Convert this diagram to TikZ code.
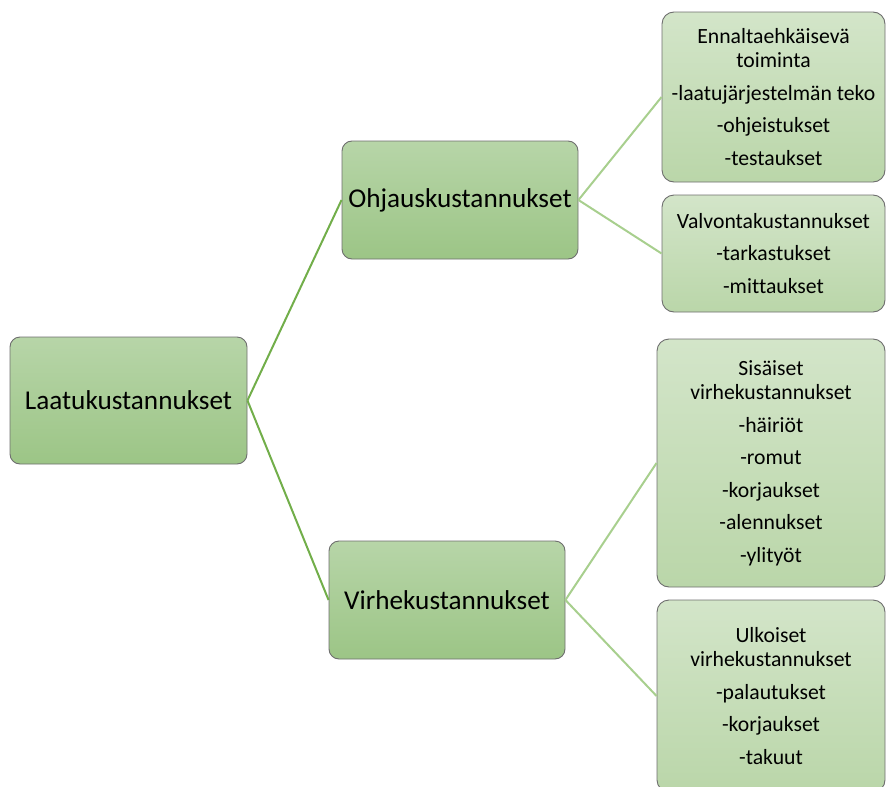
\documentclass[tikz,border=0pt]{standalone}
\usepackage{fontspec}
\setmainfont[Ligatures={NoCommon}]{Carlito}
\definecolor{bordergray}{HTML}{6E6E6E}
\definecolor{mainline}{HTML}{72AE4A}
\definecolor{subline}{HTML}{A8CF8E}
\definecolor{topA}{HTML}{B7D5A8}
\definecolor{botA}{HTML}{9CC586}
\definecolor{topB}{HTML}{D3E5C9}
\definecolor{botB}{HTML}{BAD6A9}
\tikzset{
  mainbox/.style={draw=bordergray, line width=0.9pt, rounded corners=10pt,
    top color=topA, bottom color=botA, inner sep=0pt, align=center,
    font=\fontsize{27.2}{31}\selectfont},
  subbox/.style={draw=bordergray, line width=0.9pt, rounded corners=12pt,
    top color=topB, bottom color=botB, inner sep=0pt, align=center,
    font=\fontsize{21.7}{24.5}\selectfont},
  mainconn/.style={draw=mainline, line width=2pt},
  subconn/.style={draw=subline, line width=2pt},
}
\begin{document}
\begin{tikzpicture}[x=1pt,y=-1pt]
\useasboundingbox (0,0) rectangle (887,787);
\node[mainbox, minimum width=237pt, minimum height=127pt] (laatu) at (128.5,400.5) {Laatukustannukset};
\node[mainbox, minimum width=236pt, minimum height=118pt] (ohjaus) at (460,200) {Ohjauskustannukset};
\node[mainbox, minimum width=236pt, minimum height=118pt] (virhe) at (447,600) {Virhekustannukset};
\node[subbox, minimum width=223pt, minimum height=170pt] (ennalta) at (773.5,97) {Ennaltaehkäisevä\\toiminta\\[8pt]-laatujärjestelmän teko\\[8pt]-ohjeistukset\\[8pt]-testaukset};
\node[subbox, minimum width=223pt, minimum height=117pt] (valvonta) at (773.5,253.5) {Valvontakustannukset\\[8pt]-tarkastukset\\[8pt]-mittaukset};
\node[subbox, minimum width=228pt, minimum height=248pt] (sisaiset) at (771,463) {Sisäiset\\virhekustannukset\\[8pt]-häiriöt\\[8pt]-romut\\[8pt]-korjaukset\\[8pt]-alennukset\\[8pt]-ylityöt};
\node[subbox, minimum width=228pt, minimum height=192pt] (ulkoiset) at (771,696) {Ulkoiset\\virhekustannukset\\[8pt]-palautukset\\[8pt]-korjaukset\\[8pt]-takuut};
\draw[mainconn] (laatu.east) -- (ohjaus.west);
\draw[mainconn] (laatu.east) -- (virhe.west);
\draw[subconn] (ohjaus.east) -- (ennalta.west);
\draw[subconn] (ohjaus.east) -- (valvonta.west);
\draw[subconn] (virhe.east) -- (sisaiset.west);
\draw[subconn] (virhe.east) -- (ulkoiset.west);
\end{tikzpicture}
\end{document}
